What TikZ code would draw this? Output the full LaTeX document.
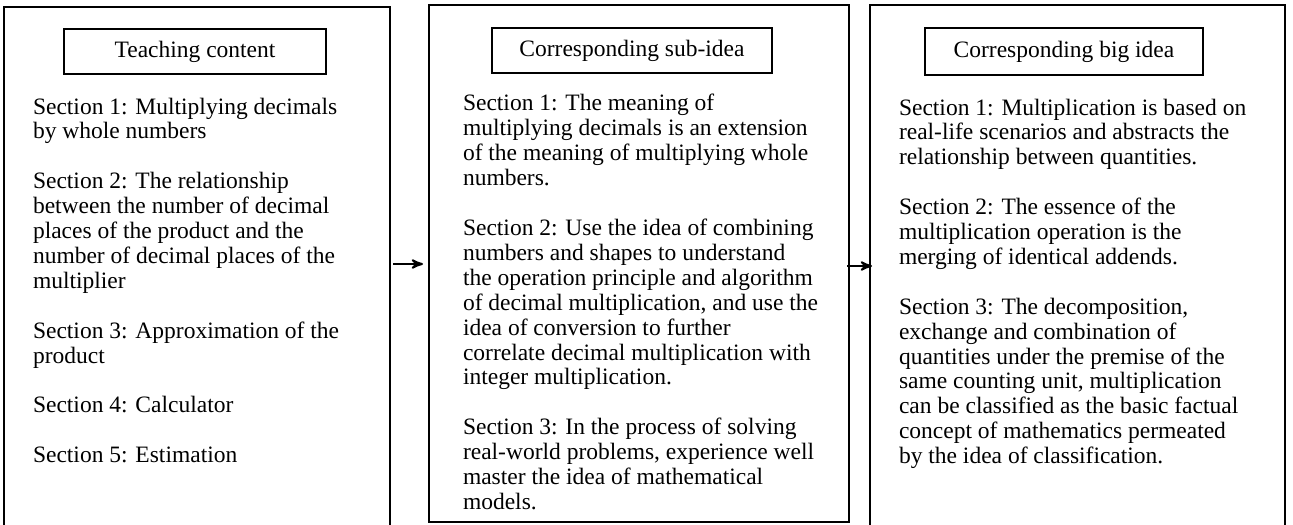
\documentclass[tikz,border=0pt]{standalone}
\usepackage{fontspec}
\setmainfont{Liberation Serif}
\usetikzlibrary{arrows,positioning}

\begin{document}
\begin{tikzpicture}[x=0.5pt,y=-0.5pt,->,>=stealth',line width=1pt,
   bigbox/.style={draw,inner sep=0pt,outer sep=0pt,anchor=north west},
   titlebox/.style={draw,inner sep=0pt,outer sep=0pt,minimum height=22.5pt,font=\fontsize{11.75}{12.45}\selectfont},
   column/.style={anchor=base west,inner sep=0pt,font=\fontsize{11.75}{12.45}\selectfont}]
   \useasboundingbox (0,0) rectangle (1293,524);
   % the three columns
   \node[bigbox,minimum width=193pt,minimum height=267pt] (content) at (4,7) {};
   \node[bigbox,minimum width=210pt,minimum height=258.5pt] (subidea) at (429,5) {};
   \node[bigbox,minimum width=207.5pt,minimum height=268pt] (bigidea) at (870,5) {};
   % headings
   \node[titlebox,minimum width=131pt] (contenttitle) at (195,51.5) {Teaching content};
   \node[titlebox,minimum width=140pt] (subideatitle) at (632,50.5) {Corresponding sub-idea};
   \node[titlebox,minimum width=139pt,minimum height=23.5pt] (bigideatitle) at (1064,51.5) {Corresponding big idea};
   % texts
   \node[column] (contenttext) at (32,114) {\begin{tabular}[t]{@{}l@{}}
      Section 1: Multiplying decimals\\
      by whole numbers\\
      \\
      Section 2: The relationship\\
      between the number of decimal\\
      places of the product and the\\
      number of decimal places of the\\
      multiplier\\
      \\
      Section 3: Approximation of the\\
      product\\
      \\
      Section 4: Calculator\\
      \\
      Section 5: Estimation
      \end{tabular}};
   \node[column] (subideatext) at (462,111) {\begin{tabular}[t]{@{}l@{}}
      Section 1: The meaning of\\
      multiplying decimals is an extension\\
      of the meaning of multiplying whole\\
      numbers.\\
      \\
      Section 2: Use the idea of combining\\
      numbers and shapes to understand\\
      the operation principle and algorithm\\
      of decimal multiplication, and use the\\
      idea of conversion to further\\
      correlate decimal multiplication with\\
      integer multiplication.\\
      \\
      Section 3: In the process of solving\\
      real-world problems, experience well\\
      master the idea of mathematical\\
      models.
      \end{tabular}};
   \node[column] (bigideatext) at (898,115) {\begin{tabular}[t]{@{}l@{}}
      Section 1: Multiplication is based on\\
      real-life scenarios and abstracts the\\
      relationship between quantities.\\
      \\
      Section 2: The essence of the\\
      multiplication operation is the\\
      merging of identical addends.\\
      \\
      Section 3: The decomposition,\\
      exchange and combination of\\
      quantities under the premise of the\\
      same counting unit, multiplication\\
      can be classified as the basic factual\\
      concept of mathematics permeated\\
      by the idea of classification.
      \end{tabular}};
   % arrows
   \coordinate (row1) at (0,264);
   \coordinate (row2) at (0,266);
   \path (content.east |- row1) edge[shorten <=1.5pt,shorten >=3pt] (subidea.west |- row1);
   \path (subidea.east |- row2) edge[shorten <=-1pt,shorten >=-1pt] (bigidea.west |- row2);
\end{tikzpicture}
\end{document}
